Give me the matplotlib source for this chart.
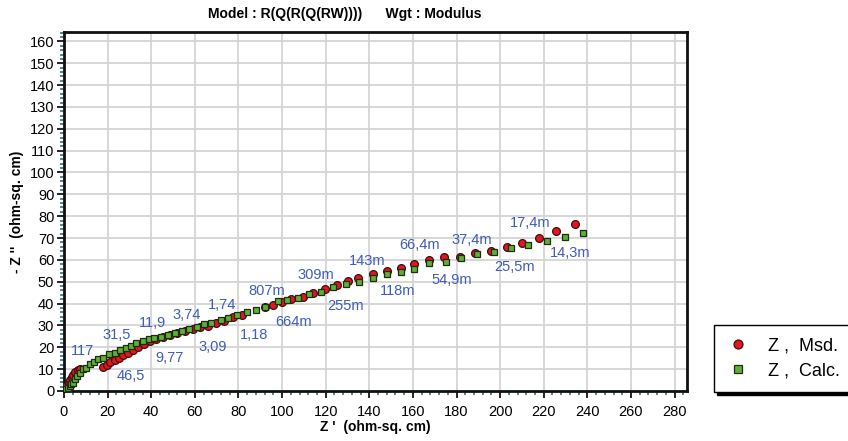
import matplotlib
matplotlib.use("Agg")
import matplotlib.pyplot as plt
from matplotlib.ticker import MultipleLocator

plt.rcParams['font.family'] = ['Liberation Sans', 'DejaVu Sans']

# measured impedance (red circles)
msd_re = [0.4, 0.9, 1.5, 2.1, 2.8, 3.5, 4.3, 5.2, 6.3, 7.3,
          17.9, 19.5, 21.2, 23.3, 25.2, 27.2, 29.4, 31.6, 34.0, 36.6,
          39.4, 42.4, 45.4, 48.6, 52.0, 55.5, 59.0, 62.3, 66.0, 69.8,
          73.6, 77.5, 81.5, 92.1, 95.9, 99.8, 104.3, 109.7, 114.3, 119.6,
          125.3, 130.3, 134.9, 141.8, 148.0, 154.5, 160.6, 167.5, 174.4, 181.6,
          188.5, 195.8, 203.0, 210.1, 217.9, 225.8, 234.5]
msd_im = [0.5, 1.4, 2.6, 3.8, 5.0, 6.3, 7.5, 8.6, 9.5, 10.2,
          11.2, 12.0, 13.2, 14.1, 15.3, 16.4, 17.6, 18.9, 20.1, 21.4,
          22.7, 23.7, 24.8, 25.7, 26.6, 27.4, 28.2, 29.1, 29.8, 30.9,
          32.2, 33.7, 35.0, 38.3, 39.4, 40.8, 41.9, 43.2, 44.7, 46.5,
          48.4, 50.2, 51.8, 53.6, 55.1, 56.4, 58.2, 60.0, 61.5, 61.2,
          63.1, 64.3, 65.8, 67.8, 70.1, 73.0, 76.3]

# fitted model (green squares)
calc_re = [0.6, 1.1, 1.8, 2.6, 3.3, 3.9, 4.9, 6.0, 7.5, 8.7,
           10.3, 11.8, 13.8, 15.6, 17.9, 20.7, 23.3, 25.9, 28.3, 30.6,
           33.2, 36.0, 39.0, 41.2, 44.7, 47.7, 50.8, 53.9, 57.2, 61.0,
           64.1, 67.5, 71.8, 75.3, 79.4, 83.7, 88.0, 92.4, 98.0, 102.3,
           107.1, 112.3, 117.7, 123.5, 129.3, 135.2, 141.5, 148.0, 154.4, 160.6,
           167.5, 175.2, 182.1, 189.5, 197.3, 205.0, 212.9, 221.4, 229.8, 238.2]
calc_im = [0.3, 0.8, 1.5, 2.3, 3.0, 3.8, 5.4, 6.9, 8.4, 10.0,
           10.7, 12.3, 13.5, 14.6, 15.3, 16.9, 17.6, 18.7, 19.9, 20.7,
           21.9, 22.7, 23.7, 24.2, 24.8, 25.7, 26.6, 27.6, 28.3, 29.4,
           30.5, 31.2, 32.5, 33.5, 34.9, 36.0, 37.2, 38.6, 41.3, 41.7,
           42.7, 44.4, 45.5, 47.5, 49.0, 49.9, 51.8, 53.6, 54.3, 55.9,
           58.5, 58.9, 60.8, 62.8, 63.5, 65.5, 66.9, 68.6, 70.7, 72.3]

# frequency annotations (Hz)
freq_text = ["117", "31,5", "46,5", "11,9", "9,77", "3,74", "3,09", "1,74", "1,18",
             "807m", "664m", "309m", "255m", "143m", "118m", "66,4m", "54,9m",
             "37,4m", "25,5m", "17,4m", "14,3m"]
freq_x = [8.4, 24.0, 30.6, 40.4, 48.5, 56.4, 68.4, 72.7, 87.1,
          92.9, 105.4, 115.5, 129.3, 139.1, 152.8, 162.9, 177.8,
          187.2, 206.7, 213.7, 232.1]
freq_y = [18.4, 25.6, 6.9, 30.9, 15.3, 34.9, 20.2, 39.5, 25.6,
          45.6, 31.4, 53.3, 39.0, 59.7, 45.6, 66.6, 50.8,
          69.2, 56.6, 76.9, 63.3]

fig = plt.figure(figsize=(8.48, 4.41), dpi=100)
ax = fig.add_axes([64 / 848, 1 - 391 / 441, 623 / 848, 359 / 441])

ax.grid(True, which='major', color='#d4d4d4', linewidth=1.3)
ax.set_axisbelow(True)

m1, = ax.plot(msd_re, msd_im, 'o', ms=5.6, mfc='#e8141c', mec='#3a1010', mew=0.9,
              linestyle='none', zorder=3)
m2, = ax.plot(calc_re, calc_im, 's', ms=4.8, mfc='#5db233', mec='#1f2a14', mew=0.9,
              linestyle='none', zorder=4)

for t, x, y in zip(freq_text, freq_x, freq_y):
    ax.text(x, y, t, color='#3e5cb8', fontsize=10.5, ha='center', va='center', zorder=5)

ax.set_xlim(0, 285.7)
ax.set_ylim(0, 164.3)
ax.xaxis.set_major_locator(MultipleLocator(20))
ax.xaxis.set_minor_locator(MultipleLocator(4))
ax.yaxis.set_major_locator(MultipleLocator(10))
ax.yaxis.set_minor_locator(MultipleLocator(2))
ax.tick_params(which='major', direction='out', length=5, width=1.2, labelsize=10.5,
               colors='black', pad=2)
ax.tick_params(which='minor', direction='out', length=3, width=1.2, color='#2e7575')
ax.tick_params(axis='x', pad=5)

for s in ax.spines.values():
    s.set_linewidth(2)
    s.set_color('#111111')

ax.set_xlabel("Z '  (ohm-sq. cm)", fontsize=10, fontweight='bold', labelpad=1)
ax.set_ylabel("- Z ''  (ohm-sq. cm)", fontsize=10, fontweight='bold', labelpad=4)

fig.text(345 / 848, 1 - 14 / 441, "Model : R(Q(R(Q(RW))))      Wgt : Modulus",
         ha='center', va='center', fontsize=10, fontweight='bold')

leg = fig.legend([m1, m2], ["Z ,  Msd.", "Z ,  Calc."],
                 loc='lower left', bbox_to_anchor=(714 / 848, 1 - 392 / 441),
                 frameon=True, fancybox=False, shadow={'color': 'black', 'alpha': 1},
                 fontsize=13, handletextpad=1.0, borderpad=0.7, labelspacing=0.45,
                 handlelength=1.3, borderaxespad=0, markerscale=1.15)
leg.get_frame().set_edgecolor('black')
leg.get_frame().set_linewidth(1.0)

fig.savefig('out.png', dpi=100)
